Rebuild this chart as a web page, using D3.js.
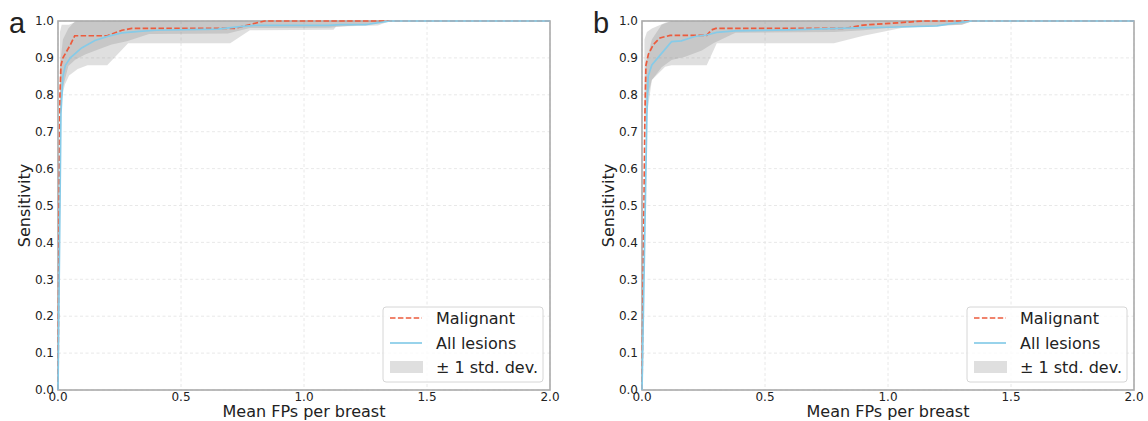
<!DOCTYPE html>
<html>
<head>
<meta charset="utf-8">
<script src="https://cdn.jsdelivr.net/npm/d3@7"></script>
<style>
  body { margin: 0; background: #fff; }
  svg { display: block; }
  text { font-family: "DejaVu Sans", sans-serif; fill: #222; }
</style>
</head>
<body>
<svg id="chart"></svg>
<script>
// tick values and labels
const xTicks = [0, 0.5, 1.0, 1.5, 2.0];
const yTicks = [0, 0.1, 0.2, 0.3, 0.4, 0.5, 0.6, 0.7, 0.8, 0.9, 1.0];
const legendNames = ["Malignant", "All lesions", "\u00b1 1 std. dev."];
const panelLetters = ["a", "b"];

// panel a: [fp, sensitivity]
const aMalignant = [[0, 0], [0.008, 0.8], [0.012, 0.88], [0.02, 0.9], [0.05, 0.935], [0.068, 0.96],
  [0.2, 0.96], [0.26, 0.975], [0.3, 0.98], [0.72, 0.98], [0.82, 0.997], [0.84, 1.0], [2.0, 1.0]];
const aAllLesions = [[0, 0], [0.012, 0.75], [0.02, 0.85], [0.03, 0.88], [0.05, 0.9], [0.096, 0.927],
  [0.15, 0.947], [0.205, 0.959], [0.26, 0.968], [0.33, 0.972], [0.4, 0.975], [0.65, 0.978],
  [0.73, 0.984], [0.8, 0.988], [1.1, 0.988], [1.15, 0.99], [1.25, 0.99], [1.35, 1.0], [2.0, 1.0]];
// bands: [fp, lower, upper]
const aMalignantBand = [[0.008, 0.7, 0.97], [0.015, 0.79, 0.99], [0.028, 0.828, 0.99], [0.045, 0.852, 0.99],
  [0.08, 0.87, 1.0], [0.12, 0.88, 1.0], [0.2, 0.88, 1.0], [0.285, 0.94, 1.0], [0.7, 0.94, 1.0],
  [0.78, 0.975, 1.0], [1.12, 0.976, 1.0], [1.13, 0.985, 1.0], [1.3, 0.988, 1.0], [1.35, 1.0, 1.0]];
const aAllLesionsBand = [[0.008, 0.72, 0.88], [0.02, 0.82, 0.95], [0.042, 0.878, 0.98], [0.07, 0.895, 1.0],
  [0.11, 0.909, 1.0], [0.163, 0.923, 1.0], [0.218, 0.936, 1.0], [0.28, 0.945, 1.0], [0.37, 0.965, 1.0],
  [0.69, 0.966, 1.0], [0.78, 0.981, 1.0], [1.1, 0.982, 1.0], [1.2, 0.988, 1.0], [1.35, 1.0, 1.0]];

// panel b
const bMalignant = [[0, 0], [0.012, 0.75], [0.016, 0.88], [0.026, 0.91], [0.046, 0.936], [0.073, 0.954],
  [0.114, 0.961], [0.263, 0.961], [0.283, 0.976], [0.3, 0.98], [0.825, 0.98], [0.9, 0.989],
  [1.04, 0.995], [1.14, 1.0], [2.0, 1.0]];
const bAllLesions = [[0, 0], [0.02, 0.75], [0.025, 0.85], [0.04, 0.881], [0.12, 0.944], [0.16, 0.946],
  [0.215, 0.958], [0.263, 0.962], [0.304, 0.969], [0.378, 0.973], [0.6, 0.976], [0.9, 0.982],
  [1.0, 0.983], [1.2, 0.987], [1.25, 0.992], [1.34, 1.0], [2.0, 1.0]];
const bMalignantBand = [[0.01, 0.7, 0.95], [0.02, 0.79, 0.97], [0.04, 0.84, 0.98], [0.094, 0.876, 0.995],
  [0.12, 0.88, 1.0], [0.263, 0.88, 1.0], [0.304, 0.94, 1.0], [0.78, 0.94, 1.0], [0.9, 0.96, 1.0],
  [1.06, 0.982, 1.0], [1.3, 0.99, 1.0], [1.345, 1.0, 1.0]];
const bAllLesionsBand = [[0.015, 0.72, 0.88], [0.04, 0.84, 0.95], [0.08, 0.875, 0.99], [0.12, 0.894, 1.0],
  [0.175, 0.903, 1.0], [0.243, 0.92, 1.0], [0.29, 0.94, 1.0], [0.38, 0.968, 1.0], [0.78, 0.97, 1.0],
  [0.9, 0.975, 1.0], [1.06, 0.985, 1.0], [1.3, 0.99, 1.0], [1.345, 1.0, 1.0]];

const W = 1148, H = 421;
const redColor = "#ec5b3d", blueColor = "#86cbe8", bandFill = "#808080", bandAlpha = 0.25;

const svg = d3.select("#chart").attr("width", W).attr("height", H);

function drawPanel(left, right, letter, malignant, allLesions, malBand, allBand) {
  const top = 21, bottom = 390;
  const x = d3.scaleLinear().domain([0, 2]).range([left, right]);
  const y = d3.scaleLinear().domain([0, 1]).range([bottom, top]);
  const g = svg.append("g");

  // grid
  g.selectAll(".gx").data(xTicks).enter().append("line")
    .attr("x1", d => x(d)).attr("x2", d => x(d)).attr("y1", top).attr("y2", bottom)
    .attr("stroke", "#e2e2e2").attr("stroke-width", 0.8).attr("stroke-dasharray", "3,2.5");
  g.selectAll(".gy").data(yTicks).enter().append("line")
    .attr("y1", d => y(d)).attr("y2", d => y(d)).attr("x1", left).attr("x2", right)
    .attr("stroke", "#e2e2e2").attr("stroke-width", 0.8).attr("stroke-dasharray", "3,2.5");

  // std bands
  const area = d3.area().x(d => x(d[0])).y0(d => y(d[1])).y1(d => y(d[2]));
  [malBand, allBand].forEach(b => {
    g.append("path").attr("d", area(b)).attr("fill", bandFill).attr("fill-opacity", bandAlpha);
  });

  // spines
  g.append("rect").attr("x", left).attr("y", top).attr("width", right - left).attr("height", bottom - top)
    .attr("fill", "none").attr("stroke", "#aaaaaa").attr("stroke-width", 1.6);

  // lines
  const line = d3.line().x(d => x(d[0])).y(d => y(d[1]));
  g.append("path").attr("d", line(malignant)).attr("fill", "none")
    .attr("stroke", redColor).attr("stroke-width", 1.7).attr("stroke-dasharray", "5.5,2.4");
  g.append("path").attr("d", line(allLesions)).attr("fill", "none")
    .attr("stroke", blueColor).attr("stroke-width", 1.7);

  // tick labels
  g.selectAll(".xt").data(xTicks).enter().append("text")
    .attr("x", d => x(d)).attr("y", bottom + 11).attr("text-anchor", "middle")
    .attr("font-size", 12).text(d3.format(".1f"));
  g.selectAll(".yt").data(yTicks).enter().append("text")
    .attr("x", left - 4).attr("y", d => y(d)).attr("dy", "0.35em").attr("text-anchor", "end")
    .attr("font-size", 12).text(d3.format(".1f"));

  // axis labels
  g.append("text").attr("x", (left + right) / 2).attr("y", bottom + 27).attr("text-anchor", "middle")
    .attr("font-size", 16).text("Mean FPs per breast");
  g.append("text").attr("transform", `translate(${left - 28},${(top + bottom) / 2}) rotate(-90)`)
    .attr("text-anchor", "middle").attr("font-size", 16).text("Sensitivity");

  // panel letter
  g.append("text").attr("x", left - 49).attr("y", 33).attr("font-size", 29)
    .style("font-family", "'Liberation Sans', Arial, sans-serif").text(letter);

  // legend
  const lx = right - 167, ly = bottom - 83;
  const leg = g.append("g");
  leg.append("rect").attr("x", lx).attr("y", ly).attr("width", 160).attr("height", 75).attr("rx", 3)
    .attr("fill", "#fff").attr("fill-opacity", 0.8).attr("stroke", "#d6d6d6").attr("stroke-width", 1);
  const rows = [ly + 11, ly + 36, ly + 60];
  leg.append("line").attr("x1", lx + 7).attr("x2", lx + 39).attr("y1", rows[0]).attr("y2", rows[0])
    .attr("stroke", redColor).attr("stroke-width", 1.7).attr("stroke-dasharray", "5.5,2.4");
  leg.append("line").attr("x1", lx + 7).attr("x2", lx + 39).attr("y1", rows[1]).attr("y2", rows[1])
    .attr("stroke", blueColor).attr("stroke-width", 1.7);
  leg.append("rect").attr("x", lx + 7).attr("y", rows[2] - 6).attr("width", 33).attr("height", 12)
    .attr("fill", bandFill).attr("fill-opacity", bandAlpha);
  leg.selectAll(".lt").data(legendNames).enter().append("text")
    .attr("x", lx + 53).attr("y", (d, i) => rows[i]).attr("dy", "0.35em")
    .attr("font-size", 16).text(d => d);
}

drawPanel(58, 550, panelLetters[0], aMalignant, aAllLesions, aMalignantBand, aAllLesionsBand);
drawPanel(642, 1134, panelLetters[1], bMalignant, bAllLesions, bMalignantBand, bAllLesionsBand);
</script>
</body>
</html>
